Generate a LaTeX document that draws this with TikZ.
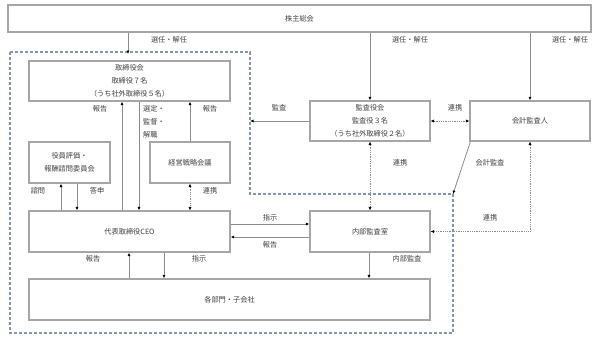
\documentclass[tikz,border=0pt]{standalone}
\usepackage{fontspec}
\setmainfont{Noto Sans CJK JP}
\usetikzlibrary{arrows.meta}
\definecolor{boxline}{HTML}{A6A6A6}
\definecolor{txt}{HTML}{404040}
\definecolor{arrline}{HTML}{8C8C8C}
\definecolor{dashc}{HTML}{8497B0}
\begin{document}
\begin{tikzpicture}[x=1pt,y=-1pt,
  font=\fontsize{7.2pt}{13pt}\selectfont, text=txt,
  box/.style={draw=boxline, line width=1.1pt, fill=white, inner sep=1pt, align=center, text=txt},
  arr/.style={draw=arrline, line width=0.8pt, -{Latex[length=3.5pt,width=3pt,black]}},
  darr/.style={draw=arrline, line width=0.6pt, dash pattern=on 0.8pt off 1pt, {Latex[length=3.5pt,width=3pt,black]}-{Latex[length=3.5pt,width=3pt,black]}},
  lab/.style={inner sep=0pt, text=txt}]
\useasboundingbox (0,0) rectangle (600,341);
% dashed region
\coordinate (d1) at (10,52);
\coordinate (d2) at (250,52);
\coordinate (d3) at (250,194);
\coordinate (d4) at (453,194);
\coordinate (d5) at (453,333);
\coordinate (d6) at (10,333);
\draw[dashc, line width=1.2pt, dash pattern=on 3pt off 2pt] (d1) -- (d2) -- (d3) -- (d4) -- (d5) -- (d6) -- cycle;
% boxes
\node[box, minimum width=583pt, minimum height=27pt] (sh) at (299.5,18.5) {株主総会};
\node[box, minimum width=201pt, minimum height=40pt] (bod) at (129.5,81) {取締役会\\取締役７名\\（うち社外取締役５名）};
\node[box, minimum width=120pt, minimum height=40pt] (ae) at (370,121) {監査役会\\監査役３名\\（うち社外取締役２名）};
\node[box, minimum width=120pt, minimum height=40pt] (ca) at (530,121) {会計監査人};
\node[box, minimum width=81pt, minimum height=41pt] (com) at (69.5,162.5) {役員評価・\\報酬諮問委員会};
\node[box, minimum width=80pt, minimum height=41pt] (msm) at (190,162.5) {経営戦略会議};
\node[box, minimum width=201pt, minimum height=41pt] (ceo) at (129.5,231.5) {代表取締役CEO};
\node[box, minimum width=120pt, minimum height=41pt] (ia) at (370,231.5) {内部監査室};
\node[box, minimum width=401pt, minimum height=41pt] (dept) at (229.5,299.5) {各部門・子会社};
% shareholders arrows
\coordinate (shb) at (128,54);
\draw[arr] (sh.south -| shb) -- (shb);
\draw[arr] (sh.south -| ae.north) -- (ae.north);
\draw[arr] (sh.south -| ca.north) -- (ca.north);
\node[lab] (l1) at (169,40) {選任・解任};
\node[lab] (l2) at (410,40) {選任・解任};
\node[lab] (l3) at (570,40) {選任・解任};
% audit board
\draw[arr] (ae.west) -- (ae.west -| d2);
\node[lab] (l4) at (279,108) {監査};
\draw[darr] (ae.east) -- (ca.west);
\node[lab] (l5) at (455,108) {連携};
\draw[arr] ([xshift=1pt]ca.south west) -- (d4);
\node[lab] (l6) at (490,163) {会計監査};
\draw[darr] (ae.south) -- (ia.north);
\node[lab] (l7) at (400,163) {連携};
\draw[darr] (ca.south) |- (ia.east);
\node[lab] (l8) at (490,218) {連携};
% board <-> ceo
\draw[arr] ([xshift=-7.5pt]ceo.north) -- ([xshift=-7.5pt]bod.south);
\node[lab] (l9) at (100,109) {報告};
\draw[arr] ([xshift=9.5pt]bod.south) -- ([xshift=9.5pt]ceo.north);
\node[lab, anchor=west, align=left] (l10) at (143,109) {選定・};
\node[lab, anchor=west, align=left] (l11) at (143,122) {監督・};
\node[lab, anchor=west, align=left] (l12) at (143,135) {解職};
\draw[arr] (msm.north) -- (msm.north |- bod.south);
\node[lab] (l13) at (210,109) {報告};
% committee
\draw[arr] ([xshift=-8.5pt]ceo.north -| com.south) -- ([xshift=-8.5pt]com.south);
\draw[arr] ([xshift=7.5pt]com.south) -- ([xshift=7.5pt]ceo.north -| com.south);
\node[lab] (l14) at (38,190.5) {諮問};
\node[lab] (l15) at (97,190.5) {答申};
\draw[darr] (msm.south) -- (msm.south |- ceo.north);
\node[lab] (l16) at (210,190.5) {連携};
% ceo <-> internal audit
\draw[arr] ([yshift=7.5pt]ceo.east) -- ([yshift=7.5pt]ia.west);
\node[lab] (l17) at (270,218) {指示};
\draw[arr] ([yshift=-5.5pt]ia.west) -- ([yshift=-5.5pt]ceo.east);
\node[lab] (l18) at (270,245) {報告};
% ceo <-> departments
\draw[arr] ([xshift=-0.5pt]ceo.south |- dept.north) -- ([xshift=-0.5pt]ceo.south);
\node[lab] (l19) at (93,259) {報告};
\draw[arr] ([xshift=34.5pt]ceo.south) -- ([xshift=34.5pt]ceo.south |- dept.north);
\node[lab] (l20) at (199,259) {指示};
\draw[arr] ([xshift=-1pt]ia.south) -- ([xshift=-1pt]ia.south |- dept.north);
\node[lab] (l21) at (407,259) {内部監査};
\end{tikzpicture}
\end{document}
